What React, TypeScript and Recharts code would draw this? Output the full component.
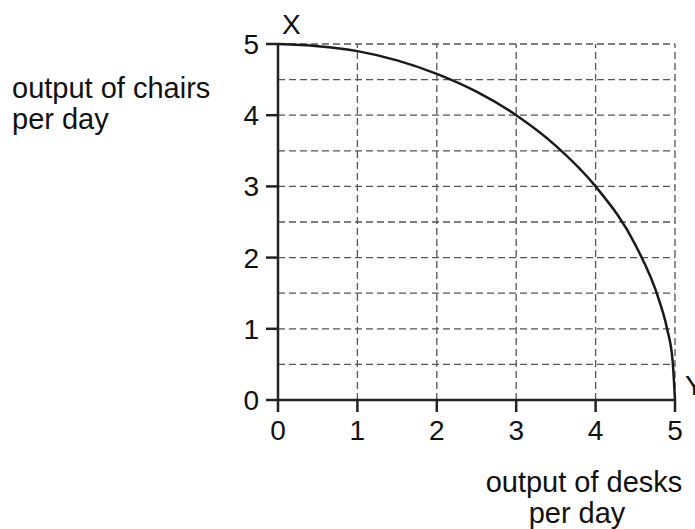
import React from "react";
import { ComposedChart, Line, XAxis, YAxis, ReferenceLine } from "recharts";

const desks = [0, 0.5, 1, 1.5, 2, 2.5, 3, 3.5, 4, 4.5, 4.8, 4.9, 4.97, 5];
const chairs = [5, 4.97, 4.9, 4.77, 4.58, 4.33, 4.0, 3.57, 3.0, 2.18, 1.4, 1.0, 0.55, 0];
const xTicks = [0, 1, 2, 3, 4, 5];
const yTicks = [0, 1, 2, 3, 4, 5];
const gridX = [1, 2, 3, 4, 5];
const gridY = [0.5, 1, 1.5, 2, 2.5, 3, 3.5, 4, 4.5, 5];

const data = desks.map((d, i) => ({ desks: d, chairs: chairs[i] }));

const FONT = "'Liberation Sans', Arial, Helvetica, sans-serif";
const tickStyle = { fill: "#111", fontSize: 28, fontFamily: FONT };

export default function App() {
  return (
    <div style={{ position: "absolute", left: 0, top: 0, width: 695, height: 529, background: "#fff" }}>
      <ComposedChart
        width={695}
        height={529}
        data={data}
        margin={{ top: 44, right: 20, bottom: 99, left: 218 }}
      >
        {gridY.map((v) => (
          <ReferenceLine key={"gy" + v} y={v} stroke="#555" strokeWidth={1.3} strokeDasharray="7 4" ifOverflow="visible" />
        ))}
        {gridX.map((v) => (
          <ReferenceLine key={"gx" + v} x={v} stroke="#555" strokeWidth={1.3} strokeDasharray="7 4" ifOverflow="visible" />
        ))}
        <XAxis
          type="number"
          dataKey="desks"
          domain={[0, 5]}
          ticks={xTicks}
          height={30}
          tickSize={12}
          tickMargin={8}
          axisLine={{ stroke: "#222", strokeWidth: 2.5 }}
          tickLine={{ stroke: "#222", strokeWidth: 2.5 }}
          tick={tickStyle}
          interval={0}
        />
        <YAxis
          type="number"
          domain={[0, 5]}
          ticks={yTicks}
          width={60}
          tickSize={12}
          tickMargin={7}
          axisLine={{ stroke: "#222", strokeWidth: 2.5 }}
          tickLine={{ stroke: "#222", strokeWidth: 2.5 }}
          tick={tickStyle}
          interval={0}
        />
        <Line
          type="monotone"
          dataKey="chairs"
          stroke="#1a1a1a"
          strokeWidth={2.5}
          dot={false}
          isAnimationActive={false}
        />
      </ComposedChart>
      <svg
        width={695}
        height={529}
        style={{ position: "absolute", left: 0, top: 0, pointerEvents: "none" }}
      >
        <g fontFamily={FONT} fill="#111">
          <text x={282} y={34} fontSize={28}>X</text>
          <text x={685} y={395} fontSize={28}>Y</text>
          <text x={12} y={98} fontSize={29}>output of chairs</text>
          <text x={12} y={129} fontSize={29}>per day</text>
          <text x={584} y={492} fontSize={29} textAnchor="middle">output of desks</text>
          <text x={577} y={523} fontSize={29} textAnchor="middle">per day</text>
        </g>
      </svg>
    </div>
  );
}
